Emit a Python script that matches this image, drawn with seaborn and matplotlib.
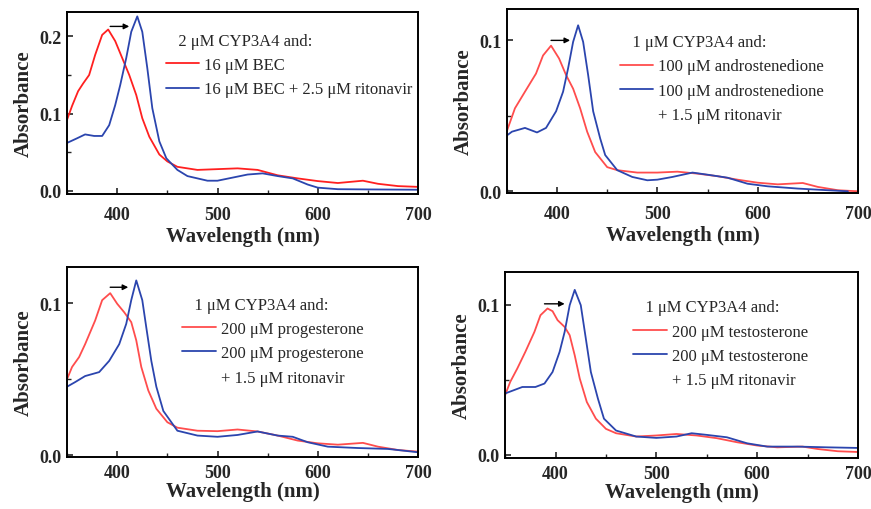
#!/usr/bin/env python3
"""
Soret-band spectra of CYP3A4 with substrates, before and after ritonavir.
Four panels, red = substrate only, blue = substrate + ritonavir.
"""

import matplotlib
matplotlib.use("Agg")
import matplotlib.pyplot as plt
from matplotlib.lines import Line2D
from matplotlib.ticker import MultipleLocator, FormatStrFormatter
import seaborn as sns

sns.set_theme(style="ticks")
plt.rcParams['font.family'] = ['Liberation Serif', 'DejaVu Serif']

RED = '#ff2020'
RED_LIGHT = '#ff4d4d'
BLUE = '#2b45ae'

# --- panel 1: BEC ---
bec_wl = [350, 355, 361, 366, 372, 378, 385, 391, 398, 405, 412, 419, 425, 432, 442, 450,
          460, 480, 500, 520, 540, 560, 580, 600, 620, 645, 660, 680, 700]
bec_abs = [0.092, 0.110, 0.129, 0.139, 0.150, 0.176, 0.202, 0.209, 0.194, 0.172, 0.150,
           0.124, 0.094, 0.070, 0.047, 0.038, 0.031, 0.027, 0.028, 0.029, 0.027, 0.020,
           0.016, 0.0125, 0.010, 0.013, 0.009, 0.006, 0.005]
bec_rit_wl = [350, 360, 368, 377, 385, 392, 398, 403, 409, 414, 420, 425, 430, 435, 442,
              449, 460, 470, 490, 500, 515, 530, 545, 560, 575, 590, 600, 620, 650, 700]
bec_rit_abs = [0.062, 0.068, 0.073, 0.071, 0.071, 0.085, 0.111, 0.137, 0.172, 0.206, 0.226,
               0.206, 0.159, 0.107, 0.064, 0.042, 0.027, 0.019, 0.013, 0.013, 0.017, 0.021,
               0.0225, 0.019, 0.016, 0.008, 0.004, 0.002, 0.0017, 0.0013]

# --- panel 2: androstenedione ---
and_wl = [350, 358, 368, 379, 386, 394, 402, 409, 416, 423, 430, 438, 450, 460, 480, 500,
          520, 540, 560, 580, 600, 620, 645, 660, 680, 700]
and_abs = [0.040, 0.055, 0.066, 0.078, 0.090, 0.0965, 0.088, 0.077, 0.068, 0.055, 0.0395,
           0.026, 0.016, 0.014, 0.0124, 0.0124, 0.013, 0.0117, 0.010, 0.0077, 0.0057,
           0.0046, 0.0055, 0.0029, 0.0007, 0.0]
and_rit_wl = [350, 355, 368, 380, 389, 399, 406, 411, 416, 421, 426, 431, 436, 443, 448,
              460, 475, 490, 500, 515, 535, 550, 570, 590, 610, 640, 670, 690]
and_rit_abs = [0.037, 0.0395, 0.042, 0.039, 0.042, 0.053, 0.066, 0.0815, 0.099, 0.110,
               0.099, 0.077, 0.053, 0.035, 0.024, 0.014, 0.0095, 0.0073, 0.0077, 0.0095,
               0.0124, 0.011, 0.009, 0.005, 0.0033, 0.0018, 0.0007, 0.0]

# --- panel 3: progesterone ---
pro_wl = [350, 355, 362, 368, 378, 385, 393, 400, 407, 414, 419, 424, 431, 439, 450, 460,
          480, 500, 520, 540, 560, 580, 600, 620, 645, 660, 680, 700]
pro_abs = [0.050, 0.058, 0.0645, 0.073, 0.0886, 0.102, 0.1066, 0.0996, 0.094, 0.0875,
           0.0755, 0.058, 0.0425, 0.0305, 0.0216, 0.018, 0.016, 0.0157, 0.0168, 0.0155,
           0.0128, 0.0095, 0.0077, 0.0068, 0.008, 0.0055, 0.0033, 0.0022]
pro_rit_wl = [350, 358, 368, 382, 392, 402, 409, 414, 419, 425, 429, 434, 439, 446, 460,
              480, 500, 520, 540, 560, 575, 590, 610, 640, 670, 700]
pro_rit_abs = [0.045, 0.048, 0.052, 0.0546, 0.062, 0.073, 0.0864, 0.102, 0.115, 0.102,
               0.084, 0.062, 0.045, 0.029, 0.016, 0.0128, 0.012, 0.0132, 0.0155, 0.0128,
               0.012, 0.0084, 0.0055, 0.0046, 0.004, 0.0018]

# --- panel 4: testosterone ---
tes_wl = [350, 355, 362, 370, 379, 385, 392, 397, 402, 409, 414, 419, 424, 431, 440, 450,
          460, 480, 500, 520, 540, 560, 580, 600, 620, 645, 660, 680, 700]
tes_abs = [0.040, 0.0487, 0.0576, 0.0687, 0.082, 0.0931, 0.0976, 0.0958, 0.0898, 0.0853,
           0.0798, 0.0664, 0.0509, 0.0353, 0.0242, 0.0174, 0.0145, 0.0123, 0.013, 0.014,
           0.013, 0.0112, 0.0085, 0.0063, 0.0051, 0.0056, 0.004, 0.0025, 0.002]
tes_rit_wl = [350, 367, 380, 389, 397, 404, 409, 414, 419, 425, 430, 435, 442, 448, 460,
              480, 500, 520, 535, 550, 570, 590, 610, 640, 670, 700]
tes_rit_abs = [0.041, 0.0453, 0.0453, 0.0476, 0.0553, 0.0687, 0.082, 0.0998, 0.110, 0.0998,
               0.0776, 0.0553, 0.0376, 0.0242, 0.0163, 0.0123, 0.0114, 0.0123, 0.0145,
               0.0134, 0.0118, 0.0078, 0.0056, 0.0056, 0.0051, 0.0047]

x_ticks = [400, 500, 600, 700]

panels = [
    dict(rect=[0.077, 0.618, 0.403, 0.357], ylim=(-0.004, 0.232), xpad=9, xlabelpad=2,
         red=(bec_wl, bec_abs), blue=(bec_rit_wl, bec_rit_abs), red_col=RED,
         title='2 \u03bcM CYP3A4 and:',
         labels=['16 \u03bcM BEC', '16 \u03bcM BEC + 2.5 \u03bcM ritonavir'],
         leg_xy=(0.282, 0.885), arrow=(393, 412, 0.213)),
    dict(rect=[0.582, 0.620, 0.403, 0.361], ylim=(-0.001, 0.121), xpad=9, xlabelpad=2,
         red=(and_wl, and_abs), blue=(and_rit_wl, and_rit_abs), red_col=RED_LIGHT,
         title='1 \u03bcM CYP3A4 and:',
         labels=['100 \u03bcM androstenedione', '100 \u03bcM androstenedione',
                 '+ 1.5 \u03bcM ritonavir'],
         leg_xy=(0.322, 0.862), arrow=(394, 413, 0.100)),
    dict(rect=[0.077, 0.102, 0.403, 0.373], ylim=(-0.0013, 0.124), xpad=5, xlabelpad=0,
         red=(pro_wl, pro_abs), blue=(pro_rit_wl, pro_rit_abs), red_col=RED_LIGHT,
         title='1 \u03bcM CYP3A4 and:',
         labels=['200 \u03bcM progesterone', '200 \u03bcM progesterone',
                 '+ 1.5 \u03bcM ritonavir'],
         leg_xy=(0.328, 0.843), arrow=(393, 411, 0.1105)),
    dict(rect=[0.580, 0.100, 0.405, 0.365], ylim=(-0.002, 0.122), xpad=5, xlabelpad=0,
         red=(tes_wl, tes_abs), blue=(tes_rit_wl, tes_rit_abs), red_col=RED_LIGHT,
         title='1 \u03bcM CYP3A4 and:',
         labels=['200 \u03bcM testosterone', '200 \u03bcM testosterone',
                 '+ 1.5 \u03bcM ritonavir'],
         leg_xy=(0.363, 0.852), arrow=(389, 409, 0.1007)),
]

fig = plt.figure(figsize=(8.71, 5.10), dpi=100)

for p in panels:
    ax = fig.add_axes(p['rect'])
    sns.lineplot(x=p['red'][0], y=p['red'][1], ax=ax, color=p['red_col'], lw=1.3)
    sns.lineplot(x=p['blue'][0], y=p['blue'][1], ax=ax, color=BLUE, lw=1.3)

    ax.set_xlim(350, 700)
    ax.set_ylim(*p['ylim'])
    ax.set_xticks(x_ticks)
    ax.xaxis.set_minor_locator(MultipleLocator(50))
    ax.yaxis.set_major_locator(MultipleLocator(0.1))
    ax.yaxis.set_minor_locator(MultipleLocator(0.05))
    ax.yaxis.set_major_formatter(FormatStrFormatter('%.1f'))
    ax.tick_params(which='major', direction='in', length=4, width=1.2, labelsize=13)
    ax.tick_params(axis='x', which='major', pad=p['xpad'])
    ax.tick_params(axis='y', which='major', pad=4)
    ax.tick_params(which='minor', direction='in', length=3, width=1.0)
    for lab in ax.get_xticklabels() + ax.get_yticklabels():
        lab.set_fontweight('bold')
    for sp in ax.spines.values():
        sp.set_visible(True)
        sp.set_linewidth(1.4)
        sp.set_color('black')

    ax.set_xlabel('Wavelength (nm)', fontsize=15, fontweight='bold',
                  labelpad=p['xlabelpad'])
    ax.set_ylabel('Absorbance', fontsize=15, fontweight='bold', labelpad=4)

    # shift arrow
    x0, x1, ya = p['arrow']
    ax.annotate('', xy=(x1, ya), xytext=(x0, ya),
                arrowprops=dict(arrowstyle='-|>', color='black', lw=1.0,
                                mutation_scale=8, shrinkA=0, shrinkB=0))

    handles = [Line2D([], [], color=p['red_col'], lw=1.3),
               Line2D([], [], color=BLUE, lw=1.3)]
    if len(p['labels']) == 3:
        handles.append(Line2D([], [], color='none', lw=1.3))
    ax.legend(handles, p['labels'], title='   ' + p['title'], loc='upper left',
              bbox_to_anchor=p['leg_xy'], frameon=False, fontsize=12,
              title_fontsize=12, alignment='left', borderpad=0, borderaxespad=0,
              handlelength=2.0, handletextpad=0.3, labelspacing=0.5)

fig.savefig('out.png', dpi=100)
print("Saved out.png")
